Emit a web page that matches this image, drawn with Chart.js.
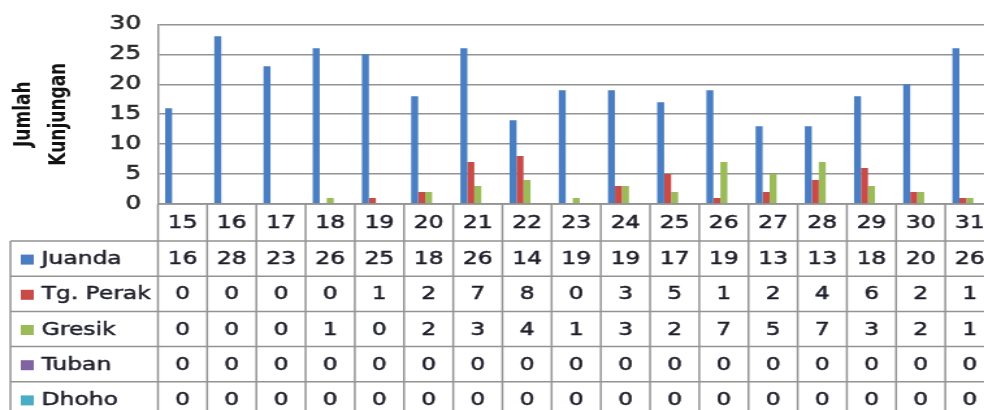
<!DOCTYPE html>
<html>
<head>
<meta charset="utf-8">
<script src="https://cdn.jsdelivr.net/npm/chart.js@4.4.1/dist/chart.umd.min.js"></script>
<style>
  html, body { margin: 0; padding: 0; background: #fff; overflow: hidden; }
  /* the original picture is stretched sideways, so the whole chart is drawn narrow and widened */
  #wrap { width: 770px; height: 410px; transform: scaleX(1.3); transform-origin: 0 0; }
</style>
</head>
<body>
<div id="wrap"><canvas id="kunjunganChart"></canvas></div>
<script>
// Tanggal kunjungan
const days = ['15', '16', '17', '18', '19', '20', '21', '22', '23', '24', '25', '26', '27', '28', '29', '30', '31'];

// Jumlah kunjungan per pelabuhan
const juanda  = [16, 28, 23, 26, 25, 18, 26, 14, 19, 19, 17, 19, 13, 13, 18, 20, 26];
const tgPerak = [0, 0, 0, 0, 1, 2, 7, 8, 0, 3, 5, 1, 2, 4, 6, 2, 1];
const gresik  = [0, 0, 0, 1, 0, 2, 3, 4, 1, 3, 2, 7, 5, 7, 3, 2, 1];
const tuban   = [0, 0, 0, 0, 0, 0, 0, 0, 0, 0, 0, 0, 0, 0, 0, 0, 0];
const dhoho   = [0, 0, 0, 0, 0, 0, 0, 0, 0, 0, 0, 0, 0, 0, 0, 0, 0];

const seriesNames = ['Juanda', 'Tg. Perak', 'Gresik', 'Tuban', 'Dhoho'];
const seriesData = [juanda, tgPerak, gresik, tuban, dhoho];
const seriesColors = ['#4A7EC2', '#C94B47', '#9BBB59', '#8064A2', '#4BACC6'];

const yTicks = [0, 5, 10, 15, 20, 25, 30];

const lineColor = '#939393';
const textColor = '#1e1e2a';
const fontFam = "'DejaVu Sans', Verdana, sans-serif";

// Tabel data di bawah grafik (gaya Excel)
const dataTable = {
    id: 'dataTable',
    afterDraw(chart) {
        const ctx = chart.ctx;
        const xs = chart.scales.x;
        const area = chart.chartArea;
        const n = days.length;
        const cw = xs.getPixelForTick(1) - xs.getPixelForTick(0);
        const headTop = area.bottom;
        const headH = 37;
        const rowH = 35.2;
        const legLeft = 8;
        const bottom = chart.height + 20;

        ctx.save();
        ctx.strokeStyle = lineColor;
        ctx.lineWidth = 1.5;

        // garis horizontal
        ctx.beginPath();
        ctx.moveTo(area.left, headTop);
        ctx.lineTo(chart.width, headTop);
        for (let r = 0; r <= seriesNames.length; r++) {
            const y = headTop + headH + r * rowH;
            ctx.moveTo(legLeft, y);
            ctx.lineTo(chart.width, y);
        }
        // garis vertikal
        for (let i = 0; i <= n; i++) {
            const x = xs.getPixelForTick(0) - cw / 2 + i * cw;
            ctx.moveTo(x, headTop);
            ctx.lineTo(x, bottom);
        }
        ctx.moveTo(legLeft, headTop + headH);
        ctx.lineTo(legLeft, bottom);
        ctx.stroke();

        ctx.font = '18px ' + fontFam;
        ctx.fillStyle = textColor;
        ctx.strokeStyle = textColor;
        ctx.lineWidth = 0.5;
        ctx.textBaseline = 'middle';

        function txt(s, x, y) {
            ctx.fillText(s, x, y);
            ctx.strokeText(s, x, y);
        }

        // baris tanggal
        ctx.textAlign = 'center';
        days.forEach((d, i) => {
            txt(d, xs.getPixelForTick(i), headTop + headH / 2 + 1);
        });

        // baris tiap seri
        seriesNames.forEach((name, r) => {
            const yc = headTop + headH + r * rowH + rowH / 2;
            ctx.fillStyle = seriesColors[r];
            ctx.fillRect(16, yc - 4, 10, 10);
            ctx.fillStyle = textColor;
            ctx.textAlign = 'left';
            txt(name, 32, yc + 1);
            ctx.textAlign = 'center';
            seriesData[r].forEach((v, i) => {
                txt(String(v), xs.getPixelForTick(i), yc + 1);
            });
        });
        ctx.restore();
    }
};

window.onload = function() {
    const ctx = document.getElementById('kunjunganChart').getContext('2d');

    new Chart(ctx, {
        type: 'bar',
        data: {
            labels: days,
            datasets: seriesNames.map((name, i) => ({
                label: name,
                data: seriesData[i],
                backgroundColor: seriesColors[i],
                borderWidth: 0,
                categoryPercentage: 0.71,
                barPercentage: 1.0
            }))
        },
        options: {
            responsive: true,
            maintainAspectRatio: false,
            animation: false,
            devicePixelRatio: 1,
            layout: {
                padding: { top: 23, right: 5, bottom: 206, left: 0 }
            },
            plugins: {
                legend: { display: false },
                tooltip: { enabled: false }
            },
            scales: {
                x: {
                    display: false
                },
                y: {
                    min: 0,
                    max: 30,
                    afterFit: function(scale) { scale.width = 121.5; },
                    afterBuildTicks: function(scale) {
                        scale.ticks = yTicks.map(v => ({ value: v }));
                    },
                    grid: {
                        color: lineColor,
                        lineWidth: 1.5,
                        drawTicks: false
                    },
                    border: {
                        display: true,
                        color: lineColor,
                        width: 1.5
                    },
                    ticks: {
                        padding: 13,
                        color: '#2a2a2a',
                        textStrokeColor: '#2a2a2a',
                        textStrokeWidth: 0.6,
                        font: { family: fontFam, size: 19 }
                    },
                    title: {
                        display: true,
                        text: ['Jumlah', 'Kunjungan'],
                        color: '#111',
                        padding: { top: 5 },
                        font: { family: fontFam, size: 17, weight: 'bold', lineHeight: '27px' }
                    }
                }
            }
        },
        plugins: [dataTable]
    });
};
</script>
</body>
</html>
